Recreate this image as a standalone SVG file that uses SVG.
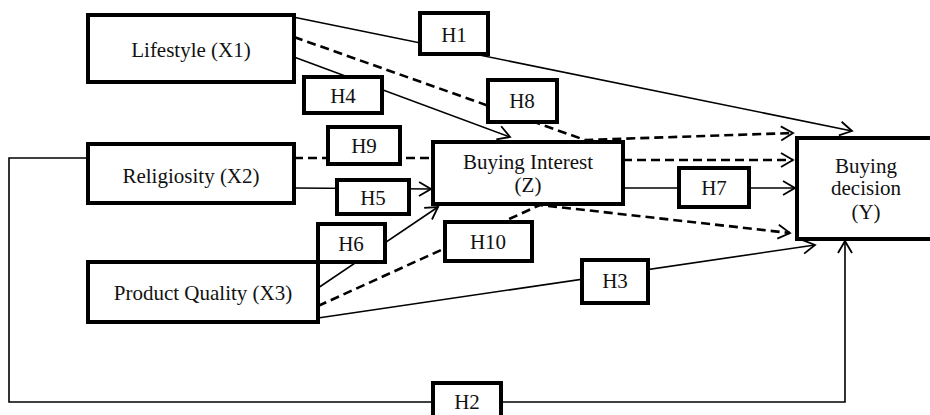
<svg xmlns="http://www.w3.org/2000/svg" width="930" height="415" viewBox="0 0 930 415">
<style>
.node rect{fill:#fff;stroke:#000;stroke-width:4}
.lbl rect{fill:#fff;stroke:#000;stroke-width:4}
text{font-family:"Liberation Serif","Times New Roman",serif;font-size:21px;fill:#111;text-anchor:middle}
.c{fill:none;stroke:#000;stroke-width:1.6}
.d{fill:none;stroke:#000;stroke-width:2.6;stroke-dasharray:9 5}
</style>
<defs>
<marker id="ah" markerUnits="userSpaceOnUse" markerWidth="16" markerHeight="18" refX="13" refY="8" orient="auto" viewBox="0 0 16 18">
<path d="M1,1 L13,8 L1,15" fill="none" stroke="#000" stroke-width="1.8"/>
</marker>
</defs>
<g id="connectors">
<path class="c" d="M293,17 L852,131" marker-end="url(#ah)"/>
<path class="d" d="M294,37 L585,140 L793,133" marker-end="url(#ah)"/>
<path class="c" d="M294,57 L510,137" marker-end="url(#ah)"/>
<path class="d" d="M294,158 L433,158"/>
<path class="d" d="M623,160 L793,160" marker-end="url(#ah)"/>
<path class="c" d="M294,188 L431,189" marker-end="url(#ah)"/>
<path class="c" d="M623,188 L795,188" marker-end="url(#ah)"/>
<path class="c" d="M318,288 L438,207" marker-end="url(#ah)"/>
<path class="d" d="M318,306 L540,205 L790,233" marker-end="url(#ah)"/>
<path class="c" d="M318,318 L815,245" marker-end="url(#ah)"/>
<path class="c" d="M88,158 L9,158 L9,402 L845,402 L845,241" marker-end="url(#ah)"/>
</g>
<g id="lifestyle" class="node"><rect x="88" y="15" width="206" height="67"/><text x="191" y="57">Lifestyle (X1)</text></g>
<g id="religiosity" class="node"><rect x="88" y="144" width="206" height="59"/><text x="191" y="183">Religiosity (X2)</text></g>
<g id="product-quality" class="node"><rect x="88" y="262" width="230" height="60"/><text x="203" y="300">Product Quality (X3)</text></g>
<g id="buying-interest" class="node"><rect x="433" y="142" width="190" height="62"/><text x="528" y="169">Buying Interest</text><text x="528" y="192">(Z)</text></g>
<g id="buying-decision" class="node"><rect x="797" y="138" width="140" height="101"/><text x="866" y="173">Buying</text><text x="866" y="195">decision</text><text x="866" y="219">(Y)</text></g>
<g id="h1" class="lbl"><rect x="420" y="13" width="68" height="41"/><text x="454" y="42">H1</text></g>
<g id="h4" class="lbl"><rect x="304" y="77" width="78" height="36"/><text x="343" y="103">H4</text></g>
<g id="h8" class="lbl"><rect x="488" y="80" width="69" height="42"/><text x="522" y="108">H8</text></g>
<g id="h9" class="lbl"><rect x="328" y="127" width="72" height="37"/><text x="364" y="153">H9</text></g>
<g id="h5" class="lbl"><rect x="337" y="180" width="72" height="34"/><text x="373" y="205">H5</text></g>
<g id="h6" class="lbl"><rect x="318" y="224" width="67" height="38"/><text x="351" y="251">H6</text></g>
<g id="h10" class="lbl"><rect x="445" y="222" width="87" height="39"/><text x="488" y="249">H10</text></g>
<g id="h3" class="lbl"><rect x="582" y="260" width="66" height="43"/><text x="615" y="288">H3</text></g>
<g id="h7" class="lbl"><rect x="679" y="168" width="70" height="39"/><text x="714" y="195">H7</text></g>
<g id="h2" class="lbl"><rect x="433" y="383" width="68" height="40"/><text x="467" y="409">H2</text></g>
</svg>
